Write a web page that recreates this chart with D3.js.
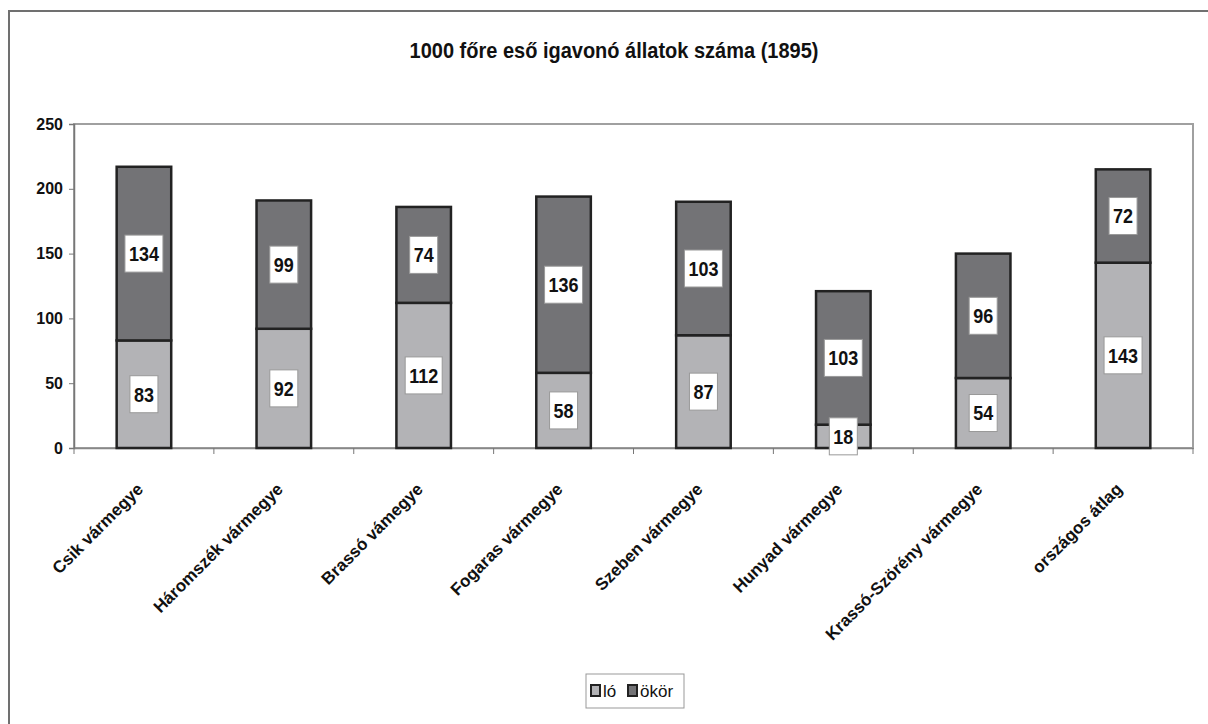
<!DOCTYPE html>
<html><head><meta charset="utf-8">
<script src="https://cdn.jsdelivr.net/npm/d3@7"></script>
<style>
body{margin:0;background:#fff;}
text{font-family:"Liberation Sans",Arial,sans-serif;fill:#111;}
</style></head>
<body><svg id="c" width="1208" height="724"></svg>
<script>
const title = "1000 főre eső igavonó állatok száma (1895)";
const categories = ["Csik vármegye","Háromszék vármegye","Brassó vámegye","Fogaras vármegye","Szeben vármegye","Hunyad vármegye","Krassó-Szörény vármegye","országos átlag"];
const seriesNames = ["ló","ökör"];
const lo = [83,92,112,58,87,18,54,143];
const okor = [134,99,74,136,103,103,96,72];
const yTicks = [0,50,100,150,200,250];
const colors = ["#b3b3b6","#737376"];

const svg = d3.select("#c");
const m = {l:74, t:124, r:1193, b:448};
// outer chart border
svg.append("rect").attr("x",9).attr("y",11).attr("width",1230).attr("height",740)
  .attr("fill","none").attr("stroke","#707070").attr("stroke-width",2);

svg.append("text").attr("x",614).attr("y",58).attr("text-anchor","middle")
  .attr("font-size",20).attr("font-weight","bold")
  .attr("transform","translate(0,-5.8) scale(1,1.1)").text(title);

const x = d3.scaleBand().domain(categories).range([m.l,m.r]).padding(0);
const y = d3.scaleLinear().domain([0,250]).range([m.b,m.t]);

// plot area border
svg.append("rect").attr("x",m.l).attr("y",m.t).attr("width",m.r-m.l).attr("height",m.b-m.t)
  .attr("fill","#fff").attr("stroke","#a0a0a0").attr("stroke-width",2);

// y axis
const ya = svg.append("g").attr("transform",`translate(${m.l},0)`)
  .call(d3.axisLeft(y).tickValues(yTicks).tickSize(5).tickPadding(6));
ya.select(".domain").attr("stroke","#777").attr("stroke-width",1.5);
ya.selectAll(".tick line").attr("stroke","#777");
ya.selectAll("text").attr("font-size",16).attr("font-weight","bold")
  .attr("font-family","Liberation Sans, Arial, sans-serif").attr("fill","#111");

// x axis
const xa = svg.append("g").attr("transform",`translate(0,${m.b})`)
  .call(d3.axisBottom(x).tickSize(0).tickFormat(""));
xa.select(".domain").attr("stroke","#888").attr("stroke-width",1.5);
const bounds = categories.map(c=>x(c)).concat([m.r]);
svg.append("g").selectAll("line").data(bounds).join("line")
  .attr("x1",d=>d).attr("x2",d=>d).attr("y1",m.b).attr("y2",m.b+6)
  .attr("stroke","#777");

// stacked data
const rows = categories.map((c,i)=>({cat:c, "ló":lo[i], "ökör":okor[i]}));
const stack = d3.stack().keys(seriesNames)(rows);
const bw = x.bandwidth()*0.39;

stack.forEach((s,si)=>{
  svg.append("g").selectAll("rect").data(s).join("rect")
    .attr("x",d=>x(d.data.cat)+x.bandwidth()/2-bw/2)
    .attr("width",bw)
    .attr("y",d=>y(d[1]))
    .attr("height",d=>y(d[0])-y(d[1]))
    .attr("fill",colors[si]).attr("stroke","#222").attr("stroke-width",2.5);
});

// value labels
stack.forEach((s,si)=>{
  s.forEach(d=>{
    const cx = x(d.data.cat)+x.bandwidth()/2;
    const cy = y((d[0]+d[1])/2);
    const g = svg.append("g");
    const t = g.append("text").attr("x",cx).attr("y",cy).attr("text-anchor","middle")
      .attr("dominant-baseline","central").attr("font-size",18).attr("font-weight","bold")
      .attr("transform",`translate(0,${-cy*0.15}) scale(1,1.15)`)
      .text(d.data[seriesNames[si]]);
    const tw = t.node().getComputedTextLength();
    g.insert("rect","text").attr("x",cx-tw/2-4).attr("width",tw+8)
      .attr("y",cy-18.5).attr("height",37)
      .attr("fill","#fff").attr("stroke","#999").attr("stroke-width",1);
  });
});

// x labels
svg.append("g").selectAll("text").data(categories).join("text")
  .attr("transform",d=>`translate(${x(d)+x.bandwidth()/2-4},${m.b+38}) rotate(-45)`)
  .attr("text-anchor","end").attr("dy","0.35em")
  .attr("font-size",17).attr("font-weight","bold").attr("fill","#222")
  .text(d=>d);

// legend
const lg = svg.append("g");
lg.append("rect").attr("x",586).attr("y",674).attr("width",98).attr("height",34)
  .attr("fill","#fff").attr("stroke","#999").attr("stroke-width",1);
const lx = [591,628];
seriesNames.forEach((n,i)=>{
  lg.append("rect").attr("x",lx[i]).attr("y",685).attr("width",9).attr("height",11)
    .attr("fill",colors[i]).attr("stroke","#222").attr("stroke-width",2);
  lg.append("text").attr("x",lx[i]+12).attr("y",697).attr("font-size",17).attr("fill","#111").text(n);
});
</script></body></html>
